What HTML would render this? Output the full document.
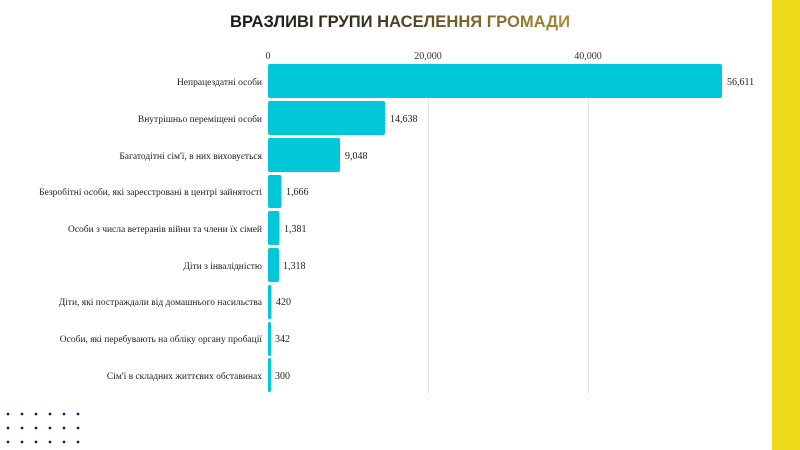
<!DOCTYPE html>
<html><head><meta charset="utf-8"><style>
html,body{margin:0;padding:0;background:#fff;}
body{width:800px;height:450px;overflow:hidden;position:relative;}
svg{position:absolute;left:0;top:0;}
</style></head><body>
<svg width="800" height="450" viewBox="0 0 800 450" xmlns="http://www.w3.org/2000/svg">
<defs>
<linearGradient id="tg" x1="0" x2="1" y1="0" y2="0">
<stop offset="0" stop-color="#1a1a1a"/><stop offset="0.4" stop-color="#3a3320"/><stop offset="0.7" stop-color="#7a6428"/><stop offset="1" stop-color="#a8893a"/>
</linearGradient>
</defs>
<rect x="772" y="0" width="28" height="450" fill="#eed916"/>
<text x="400" y="27" text-anchor="middle" font-family="'Liberation Sans',sans-serif" font-weight="bold" font-size="17" textLength="340" lengthAdjust="spacingAndGlyphs" fill="url(#tg)">ВРАЗЛИВІ ГРУПИ НАСЕЛЕННЯ ГРОМАДИ</text>
<g stroke="#e6e6e6" stroke-width="1">
<line x1="428.5" y1="62" x2="428.5" y2="394"/>
<line x1="588.5" y1="62" x2="588.5" y2="394"/>
</g>
<g font-family="'Liberation Serif',serif" font-size="10" fill="#333">
<text x="268" y="59" text-anchor="middle">0</text>
<text x="428" y="59" text-anchor="middle">20,000</text>
<text x="588" y="59" text-anchor="middle">40,000</text>
</g>
<g fill="#00c8d8">
<rect x="268" y="64" width="454" height="34" rx="2"/>
<rect x="268" y="101" width="117" height="34" rx="2"/>
<rect x="268" y="138" width="72" height="34" rx="2"/>
<rect x="268" y="175" width="13.5" height="33" rx="2"/>
<rect x="268" y="211" width="11.5" height="34" rx="2"/>
<rect x="268" y="248" width="11" height="34" rx="2"/>
<rect x="268" y="285" width="3.5" height="34" rx="1.5"/>
<rect x="268" y="322" width="3" height="34" rx="1.5"/>
<rect x="268" y="358" width="3" height="34" rx="1.5"/>
</g>
<g font-family="'Liberation Serif',serif" font-size="10" fill="#222">
<text x="727" y="85">56,611</text>
<text x="390" y="122">14,638</text>
<text x="345" y="159">9,048</text>
<text x="286" y="195">1,666</text>
<text x="284" y="232">1,381</text>
<text x="283" y="269">1,318</text>
<text x="276" y="305">420</text>
<text x="275" y="342">342</text>
<text x="275" y="379">300</text>
</g>
<g font-family="'Liberation Serif',serif" font-size="9.5" fill="#222" text-anchor="end">
<text x="262" y="85">Непрацездатні особи</text>
<text x="262" y="122">Внутрішньо переміщені особи</text>
<text x="262" y="159">Багатодітні сім'ї, в них виховується</text>
<text x="262" y="195">Безробітні особи, які зареєстровані в центрі зайнятості</text>
<text x="262" y="232">Особи з числа ветеранів війни та члени їх сімей</text>
<text x="262" y="269">Діти з інвалідністю</text>
<text x="262" y="305">Діти, які постраждали від домашнього насильства</text>
<text x="262" y="342">Особи, які перебувають на обліку органу пробації</text>
<text x="262" y="379">Сім'ї в складних життєвих обставинах</text>
</g>
<g fill="#1c1c6e">
<circle cx="8" cy="414" r="1.4"/><circle cx="22" cy="414" r="1.4"/><circle cx="36" cy="414" r="1.4"/><circle cx="50" cy="414" r="1.4"/><circle cx="64" cy="414" r="1.4"/><circle cx="78" cy="414" r="1.4"/>
<circle cx="8" cy="428" r="1.4"/><circle cx="22" cy="428" r="1.4"/><circle cx="36" cy="428" r="1.4"/><circle cx="50" cy="428" r="1.4"/><circle cx="64" cy="428" r="1.4"/><circle cx="78" cy="428" r="1.4"/>
<circle cx="8" cy="442" r="1.4"/><circle cx="22" cy="442" r="1.4"/><circle cx="36" cy="442" r="1.4"/><circle cx="50" cy="442" r="1.4"/><circle cx="64" cy="442" r="1.4"/><circle cx="78" cy="442" r="1.4"/>
</g>
</svg>
</body></html>
